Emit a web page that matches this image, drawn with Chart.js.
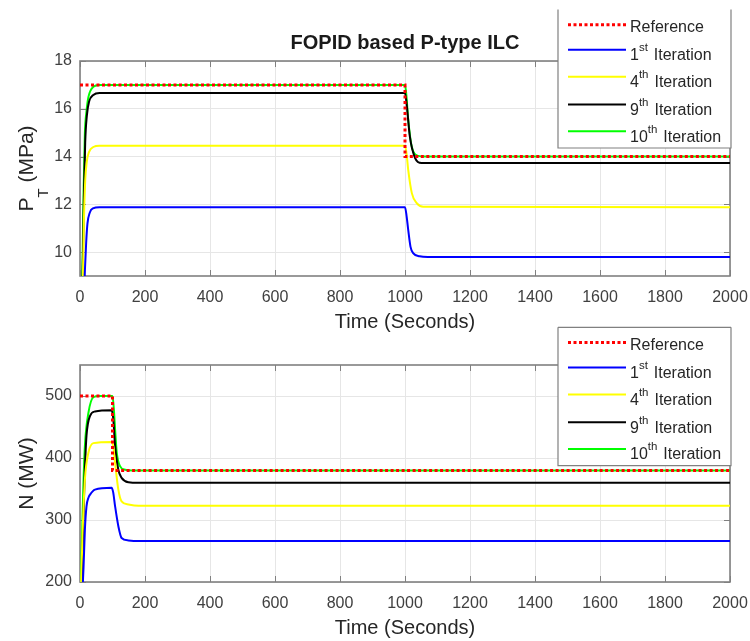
<!DOCTYPE html>
<html>
<head>
<meta charset="utf-8">
<title>FOPID based P-type ILC</title>
<script src="https://cdn.jsdelivr.net/npm/chart.js@4.4.1/dist/chart.umd.min.js"></script>
<style>
    html, body { margin: 0; padding: 0; background: #ffffff; }
    #page { position: relative; width: 750px; height: 641px; overflow: hidden; background: #ffffff; }
    .plot { position: absolute; left: 0; width: 750px; }
    .plot canvas { display: block; }
    #topBox { top: 0; height: 345px; }
    #bottomBox { top: 300px; height: 341px; }
</style>
</head>
<body>
<div id="page">
    <div class="plot" id="topBox"><canvas id="pressureChart" width="750" height="345"></canvas></div>
    <div class="plot" id="bottomBox"><canvas id="powerChart" width="750" height="341"></canvas></div>
</div>
<script>
// ---- data ----
const timeTicks = [0, 200, 400, 600, 800, 1000, 1200, 1400, 1600, 1800, 2000];
const pressureTicks = [10, 12, 14, 16, 18];
const powerTicks = [200, 300, 400, 500];

const seriesNames = ['Reference', '1st Iteration', '4th Iteration', '9th Iteration', '10th Iteration'];
const seriesColors = ['#ff0000', '#0000ff', '#ffff00', '#000000', '#00ff00'];

// P_T (MPa), pairs of [time s, value]
const pressureRef = [[0, 17], [1000, 17], [1000, 14], [2000, 14]];
const pressure1st = [[12, 8], [15, 9.2], [19, 10.4], [23, 11.2], [30, 11.65], [40, 11.83], [60, 11.88], [1000, 11.88],
    [1005, 11.5], [1010, 10.92], [1017, 10.22], [1025, 9.96], [1045, 9.83], [1070, 9.8], [2000, 9.8]];
const pressure4th = [[6, 8], [9, 9], [12, 11.3], [16, 13.0], [21, 13.8], [28, 14.2], [41, 14.4], [60, 14.45], [1000, 14.45],
    [1005, 14.1], [1010, 13.43], [1021, 12.47], [1036, 12.05], [1056, 11.9], [2000, 11.88]];
const pressure9th = [[5, 8], [8, 9], [12, 12.3], [16, 14.6], [21, 15.7], [28, 16.3], [41, 16.58], [60, 16.66], [1000, 16.66],
    [1005, 16.2], [1015, 14.83], [1031, 13.94], [1051, 13.73], [2000, 13.73]];
const pressure10th = [[4, 8], [7, 9], [11, 12.5], [15, 14.97], [20, 15.9], [26, 16.5], [41, 16.92], [60, 17], [1000, 17],
    [1004, 16.6], [1010, 15.53], [1021, 14.4], [1041, 14.03], [1060, 14], [2000, 14]];

// N (MW), pairs of [time s, value]
const powerRef = [[0, 500], [100, 500], [100, 380], [2000, 380]];
const power1st = [[8, 190], [11, 225], [15, 284], [20, 322], [26, 336], [31, 341], [46, 349], [97, 352], [102, 345],
    [108, 322], [118, 290], [128, 271], [149, 267], [180, 266], [2000, 266]];
const power4th = [[3, 190], [8, 280], [15, 365], [26, 409], [41, 424], [97, 426], [102, 420],
    [108, 392], [118, 349], [128, 330], [149, 325], [180, 323], [2000, 323]];
const power9th = [[5, 190], [12, 330], [15, 381], [20, 436], [31, 468], [46, 475], [97, 477], [102, 465],
    [108, 420], [118, 381], [128, 368], [149, 361], [180, 360], [2000, 360]];
const power10th = [[2, 190], [10, 349], [15, 419], [26, 473], [41, 498], [60, 500], [100, 500], [104, 480],
    [108, 446], [113, 409], [123, 387], [139, 381], [160, 380], [2000, 380]];

const fontFamily = "'Liberation Sans', Arial, Helvetica, sans-serif";
const frameColor = '#808080';
const gridColor = '#e6e6e6';
const textColor = '#262626';

function toPoints(pairs) {
    return pairs.map(p => ({ x: p[0], y: p[1] }));
}

function buildDatasets(series) {
    return series.map((values, i) => {
        const isRef = i === 0;
        return {
            label: seriesNames[i],
            data: toPoints(values),
            borderColor: seriesColors[i],
            backgroundColor: seriesColors[i],
            borderWidth: isRef ? 3 : 2,
            borderDash: isRef ? [3, 2.5] : [],
            pointRadius: 0,
            fill: false,
            tension: 0,
            cubicInterpolationMode: isRef ? 'default' : 'monotone'
        };
    });
}

// "1st Iteration" -> 1 + superscript st + Iteration
function labelPieces(label) {
    const m = label.match(/^(\d+)(st|nd|rd|th)(\s.*)$/);
    if (!m) return [{ text: label, mode: 'normal' }];
    return [{ text: m[1], mode: 'normal' }, { text: m[2], mode: 'sup' }, { text: m[3], mode: 'normal' }];
}

// draws text with sub/superscripts starting at (x, y) on the baseline
function drawRich(ctx, pieces, x, y, size, smallSize, subShift, supShift, measureOnly) {
    let cx = x;
    pieces.forEach(p => {
        const small = p.mode === 'sub' || p.mode === 'sup';
        ctx.font = (small ? smallSize : size) + 'px ' + fontFamily;
        const dy = p.mode === 'sub' ? subShift : (p.mode === 'sup' ? -supShift : 0);
        if (!measureOnly) ctx.fillText(p.text, cx, y + dy);
        cx += ctx.measureText(p.text).width + (p.mode === 'sup' ? 1.5 : 0);
    });
    return cx - x;
}

const matlabAxes = {
    id: 'matlabAxes',
    beforeDatasetsDraw(chart) {
        const { ctx, chartArea: area, scales } = chart;
        ctx.save();
        ctx.strokeStyle = frameColor;
        ctx.lineWidth = 1;
        ctx.beginPath();
        // inward tick marks on all four sides
        scales.x.ticks.forEach(t => {
            const px = Math.round(scales.x.getPixelForValue(t.value)) + 0.5;
            ctx.moveTo(px, area.bottom);
            ctx.lineTo(px, area.bottom - 6);
            ctx.moveTo(px, area.top);
            ctx.lineTo(px, area.top + 6);
        });
        scales.y.ticks.forEach(t => {
            const py = Math.round(scales.y.getPixelForValue(t.value)) + 0.5;
            ctx.moveTo(area.left, py);
            ctx.lineTo(area.left + 6, py);
            ctx.moveTo(area.right, py);
            ctx.lineTo(area.right - 6, py);
        });
        ctx.stroke();
        ctx.lineWidth = 1.6;
        ctx.strokeRect(area.left, area.top, area.right - area.left, area.bottom - area.top);
        ctx.restore();
    },
    afterDraw(chart, args, opts) {
        const { ctx, chartArea: area } = chart;

        // rotated y axis title
        ctx.save();
        ctx.fillStyle = textColor;
        ctx.textBaseline = 'alphabetic';
        ctx.translate(33, (area.top + area.bottom) / 2);
        ctx.rotate(-Math.PI / 2);
        const w = drawRich(ctx, opts.yTitle, 0, 0, 21, 15, 14.5, 0, true);
        drawRich(ctx, opts.yTitle, -w / 2, 0, 21, 15, 14.5, 0, false);
        ctx.restore();

        // legend box in the top right corner
        const left = 558, right = 731, top = opts.legendTop, bottom = opts.legendTop + 138.4;
        const rows = [15.2, 40.2, 67.2, 95, 121.6];
        ctx.save();
        ctx.fillStyle = '#ffffff';
        ctx.fillRect(left, top, right - left, bottom - top);
        ctx.strokeStyle = frameColor;
        ctx.lineWidth = 1.2;
        ctx.beginPath();
        if (opts.legendTopEdge) {
            ctx.moveTo(left, top);
            ctx.lineTo(right, top);
        }
        ctx.moveTo(left, top);
        ctx.lineTo(left, bottom);
        ctx.lineTo(right, bottom);
        ctx.lineTo(right, top);
        ctx.stroke();

        chart.data.datasets.forEach((ds, i) => {
            const ly = top + rows[i];
            ctx.strokeStyle = ds.borderColor;
            ctx.lineWidth = ds.borderWidth;
            ctx.setLineDash(ds.borderDash);
            ctx.beginPath();
            ctx.moveTo(568, ly);
            ctx.lineTo(626, ly);
            ctx.stroke();
            ctx.setLineDash([]);
            const pieces = labelPieces(ds.label);
            const shift = pieces.length > 1 ? 10.5 : 7;
            ctx.fillStyle = textColor;
            ctx.textBaseline = 'alphabetic';
            drawRich(ctx, pieces, 630, ly + shift, 16, 11.5, 0, 9, false);
        });
        ctx.restore();
    }
};

function timeScale(boxHeight, titlePadBottom) {
    return {
        type: 'linear',
        min: 0,
        max: 2000,
        afterBuildTicks: s => { s.ticks = timeTicks.map(v => ({ value: v })); },
        afterFit: s => {
            s.height = boxHeight;
            s.paddingLeft = 0;
            s.paddingRight = 0;
        },
        grid: { color: gridColor, lineWidth: 1, drawTicks: false },
        border: { display: false },
        ticks: {
            padding: 12,
            color: '#404040',
            maxRotation: 0,
            autoSkip: false,
            font: { family: fontFamily, size: 16 },
            callback: v => String(v)
        },
        title: {
            display: true,
            text: 'Time (Seconds)',
            color: textColor,
            font: { family: fontFamily, size: 20 },
            padding: { top: 0, bottom: titlePadBottom }
        }
    };
}

function valueScale(min, max, tickValues) {
    return {
        type: 'linear',
        min: min,
        max: max,
        afterBuildTicks: s => { s.ticks = tickValues.map(v => ({ value: v })); },
        afterFit: s => {
            s.width = 80;
            s.paddingTop = 0;
            s.paddingBottom = 0;
        },
        grid: { color: gridColor, lineWidth: 1, drawTicks: false },
        border: { display: false },
        ticks: {
            padding: 8,
            color: '#404040',
            font: { family: fontFamily, size: 16 },
            callback: v => String(v)
        }
    };
}

const pressureChart = new Chart(document.getElementById('pressureChart'), {
    type: 'line',
    data: { datasets: buildDatasets([pressureRef, pressure1st, pressure4th, pressure9th, pressure10th]) },
    options: {
        responsive: false,
        animation: false,
        events: [],
        layout: { padding: { left: 0, right: 20, top: 0, bottom: 0 } },
        scales: {
            x: timeScale(69, 11),
            y: valueScale(9, 18, pressureTicks)
        },
        plugins: {
            legend: { display: false },
            tooltip: { enabled: false },
            title: {
                display: true,
                text: 'FOPID based P-type ILC',
                color: '#1a1a1a',
                fullSize: false,
                font: { family: fontFamily, size: 20, weight: 'bold' },
                padding: { top: 31.5, bottom: 5.5 }
            },
            matlabAxes: {
                yTitle: [{ text: 'P', mode: 'normal' }, { text: 'T', mode: 'sub' }, { text: ' (MPa)', mode: 'normal' }],
                legendTop: 9.6,
                legendTopEdge: false
            }
        }
    },
    plugins: [matlabAxes]
});

const powerChart = new Chart(document.getElementById('powerChart'), {
    type: 'line',
    data: { datasets: buildDatasets([powerRef, power1st, power4th, power9th, power10th]) },
    options: {
        responsive: false,
        animation: false,
        events: [],
        layout: { padding: { left: 0, right: 20, top: 65, bottom: 0 } },
        scales: {
            x: timeScale(59, 1),
            y: valueScale(200, 550, powerTicks)
        },
        plugins: {
            legend: { display: false },
            tooltip: { enabled: false },
            matlabAxes: {
                yTitle: [{ text: 'N (MW)', mode: 'normal' }],
                legendTop: 27.3,
                legendTopEdge: true
            }
        }
    },
    plugins: [matlabAxes]
});
</script>
</body>
</html>
